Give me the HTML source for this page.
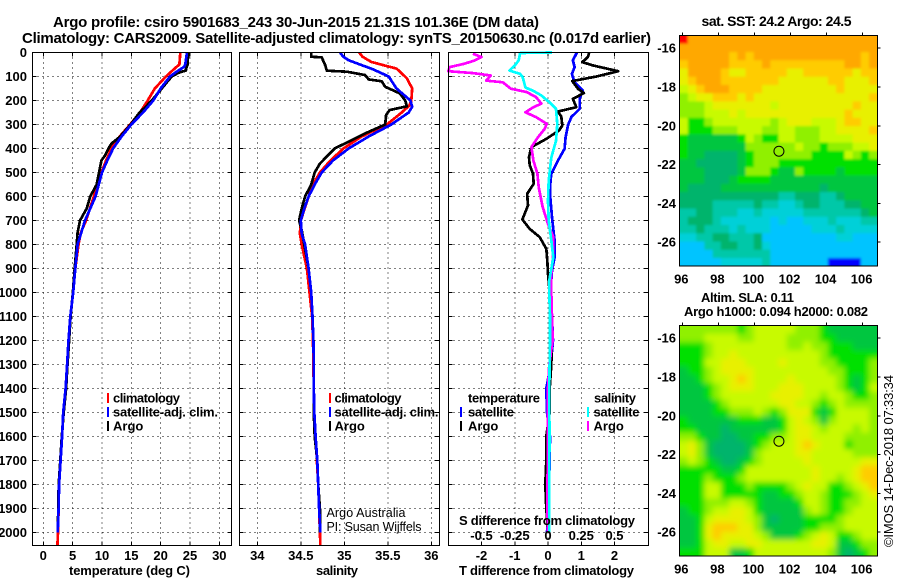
<!DOCTYPE html>
<html>
<head>
<meta charset="utf-8">
<title>Argo profile</title>
<style>
html,body{margin:0;padding:0;background:#fff;width:900px;height:580px;overflow:hidden}
svg{display:block}
text{font-family:"Liberation Sans",sans-serif;fill:#000}
.b{font-weight:bold;font-size:13px}
.t{font-weight:bold;font-size:15px}
.r{font-size:12.5px}
.m{text-anchor:middle}
.e{text-anchor:end}
</style>
</head>
<body>
<svg id="chart" width="900" height="580" viewBox="0 0 900 580" xmlns="http://www.w3.org/2000/svg">
<defs>
<filter id="soft-sst" filterUnits="userSpaceOnUse" x="660" y="0" width="240" height="580"><feGaussianBlur stdDeviation="1.2"/></filter>
<filter id="soft-sla" filterUnits="userSpaceOnUse" x="660" y="0" width="240" height="580"><feGaussianBlur stdDeviation="3"/></filter>
<clipPath id="clip-sst"><rect x="679.7" y="35.5" width="197.6" height="230.7"/></clipPath>
<clipPath id="clip-sla"><rect x="679.7" y="325.5" width="197.6" height="230.7"/></clipPath>
</defs>
<text class="t" x="53" y="27" textLength="486">Argo profile: csiro 5901683_243 30-Jun-2015 21.31S 101.36E (DM data)</text>
<text class="t" x="22" y="43" textLength="629">Climatology: CARS2009. Satellite-adjusted climatology: synTS_20150630.nc (0.017d earlier)</text>
<g id="panels"></g>
<g id="maps"></g>

<text class="b m" x="129.5" y="575" textLength="121">temperature (deg C)</text>
<text class="b m" x="337" y="575" textLength="42">salinity</text>
<text class="b" x="459" y="575" textLength="175">T difference from climatology</text>
<text class="b" x="459" y="525" textLength="176">S difference from climatology</text>

<g>
<rect x="107" y="393" width="2" height="10" fill="#f00"/>
<text class="b" x="113" y="402.5" textLength="67">climatology</text>
<rect x="107" y="407" width="2" height="10" fill="#00f"/>
<text class="b" x="113" y="416.5" textLength="105">satellite-adj. clim.</text>
<rect x="107" y="421" width="2" height="10" fill="#000"/>
<text class="b" x="113" y="430.5">Argo</text>
</g>
<g>
<rect x="329" y="393" width="2" height="10" fill="#f00"/>
<text class="b" x="334.5" y="402.5" textLength="67">climatology</text>
<rect x="329" y="407" width="2" height="10" fill="#00f"/>
<text class="b" x="334.5" y="416.5" textLength="104">satellite-adj. clim.</text>
<rect x="329" y="421" width="2" height="10" fill="#000"/>
<text class="b" x="334.5" y="430.5">Argo</text>
</g>
<g>
<text class="b" x="468" y="402.5" textLength="72">temperature</text>
<rect x="460" y="407" width="2" height="10" fill="#00f"/>
<text class="b" x="468" y="416.5" textLength="46">satellite</text>
<rect x="460" y="421" width="2" height="10" fill="#000"/>
<text class="b" x="468" y="430.5">Argo</text>
<text class="b" x="594" y="402.5" textLength="42">salinity</text>
<rect x="587" y="407" width="2" height="10" fill="#0ff"/>
<text class="b" x="593.5" y="416.5" textLength="46">satellite</text>
<rect x="587" y="421" width="2" height="10" fill="#f0f"/>
<text class="b" x="593.5" y="430.5">Argo</text>
</g>
<text class="r" x="326.5" y="517" textLength="79">Argo Australia</text>
<text class="r" x="326.5" y="531" textLength="95">PI: Susan Wijffels</text>

<text class="t m" x="776.5" y="26" style="font-size:14px" textLength="150">sat. SST: 24.2 Argo: 24.5</text>
<text class="b m" x="747.5" y="302" textLength="93">Altim. SLA: 0.11</text>
<text class="b m" x="776" y="316" textLength="184">Argo h1000: 0.094 h2000: 0.082</text>
<text x="893" y="547" transform="rotate(-90 893 547)" textLength="172" style="font-size:13px">©IMOS 14-Dec-2018 07:33:34</text>
</svg>

<script>
// ---- Profile data (depth in dbar, temperature in deg C, salinity in psu) ----
const depthTicks = [0,100,200,300,400,500,600,700,800,900,1000,1100,1200,1300,1400,1500,1600,1700,1800,1900,2000];
const tempTicks = [0,5,10,15,20,25,30];
const salTicks = ["34","34.5","35","35.5","36"];
const tDiffTicks = [-2,-1,0,1,2];
const sDiffTicks = ["-0.5","-0.25","0","0.25","0.5"];

const tempClimDepths = [0,50,60,100,150,200,250,300,350,400,450,500,600,700,750,800,900,1000,1100,1200,1300,1400,1500,1600,1700,1800,1900,2000,2055];
const tempClim = [23.35,23.2,22.7,20.9,19,17.8,16.5,14.8,13,11.6,10.7,9.9,8.6,7.3,6.4,6,5.45,5.1,4.6,4.3,4.05,3.8,3.4,3.2,2.95,2.7,2.6,2.5,2.4];
const tempArgoDepths = [0,50,70,75,85,100,120,150,200,230,250,300,350,380,400,430,450,500,550,600,650,700,750,800,900,1000,1100,1200,1300,1400,1500,1600,1700,1800,1900,2000];
const tempArgo = [24.7,24.6,24.3,24.3,23,21.9,21.2,20.2,18.5,17.3,16.4,14.9,13.1,11.6,11.1,10.5,9.9,9.5,9.1,8,7.4,6.25,5.85,5.7,5.35,5.05,4.65,4.4,4.12,3.88,3.47,3.15,2.9,2.62,2.55,2.45];
const tempSatDepths = [0,50,60,80,100,150,200,250,300,350,400,450,500,600,700,800,900,1000,1100,1200,1300,1400,1500,1600,1700,1800,1900,2000];
const tempSat = [24.5,24.2,24,22.7,21.6,20,18.75,17,15,13.35,11.9,10.9,10,8.9,7.1,5.85,5.45,5.1,4.6,4.3,4.05,3.8,3.4,3.2,2.95,2.7,2.6,2.45];

const salClimDepths = [0,18,39,53,67,80,108,150,200,220,250,300,350,400,450,500,550,600,700,755,800,900,1000,1100,1200,1300,1400,1500,1600,1700,1800,1900,2000,2055];
const salClim = [35.17,35.21,35.31,35.45,35.6,35.64,35.72,35.78,35.77,35.75,35.66,35.49,35.2,34.99,34.84,34.72,34.64,34.59,34.5,34.49,34.51,34.57,34.6,34.63,34.64,34.645,34.65,34.655,34.67,34.685,34.7,34.71,34.72,34.725];
const salArgoDepths = [0,18,20,53,76,80,94,112,120,143,171,200,224,240,261,300,337,382,400,463,500,550,600,650,700,740,800,900,1000,1100,1200,1300,1400,1500,1600,1700,1800,1900,2000];
const salArgo = [34.62,34.62,34.74,34.78,34.8,35.03,35.24,35.28,35.43,35.47,35.64,35.7,35.72,35.52,35.48,35.47,35.24,34.99,34.89,34.72,34.66,34.62,34.55,34.51,34.48,34.51,34.54,34.59,34.62,34.635,34.645,34.65,34.65,34.65,34.66,34.69,34.7,34.72,34.72];
const salSatDepths = [0,18,32,50,70,100,150,200,226,250,300,350,400,450,500,550,600,650,700,755,800,900,1000,1100,1200,1300,1400,1500,1600,1700,1800,1900,2000];
const salSat = [34.95,34.99,35.05,35.18,35.33,35.51,35.6,35.76,35.78,35.74,35.54,35.28,35.05,34.87,34.74,34.66,34.59,34.54,34.5,34.51,34.55,34.59,34.62,34.635,34.645,34.65,34.65,34.655,34.67,34.69,34.7,34.71,34.725];

const tDiffSatDepths = [0,33,61,89,124,158,193,235,269,303,353,401,450,505,547,603,700,783,853,908,950,1000,1100,1200,1300,1400,1500,1600,1700,1800,1900,2000];
const tDiffSat = [0.87,0.75,0.8,0.72,0.8,1.05,0.95,0.95,0.7,0.6,0.53,0.5,0.3,0.1,0.07,0.07,0.13,0.2,0.2,0.12,0.1,0.1,0.12,0.15,0.08,-0.05,-0.03,0.06,0.05,0.03,0.01,-0.03];
const tDiffArgoDepths = [0,19,40,54,78,100,119,151,169,193,228,246,267,304,325,360,394,435,469,505,547,589,637,696,735,769,818,867,922,1000,1100,1200,1300,1400,1500,1600,1700,1800,1900,2000];
const tDiffArgo = [1.24,1.2,1.03,1.36,2.11,1.46,0.73,0.9,1.08,0.75,0.85,0.3,0.4,0.43,0.33,-0.05,-0.5,-0.57,-0.55,-0.45,-0.43,-0.63,-0.6,-0.77,-0.55,-0.25,-0.05,-0.02,0,0.05,0.1,0.12,0.1,0.05,0.05,-0.05,-0.05,-0.08,-0.05,0];
const sDiffSatDepths = [0,2,33,54,75,89,103,146,160,179,207,235,299,368,438,535,618,700,783,853,950,1000,1100,1200,1300,1400,1500,1600,1700,1800,1900,2000];
const sDiffSat = [0.03,-0.21,-0.22,-0.25,-0.29,-0.21,-0.19,-0.17,-0.11,-0.05,0.01,0.06,0.07,0.06,0.025,0.005,0,0.005,0.025,0.04,0.01,0.01,0.015,0.015,0.012,0.01,0.01,0.012,0.01,0.01,0.01,0.01];
const sDiffArgoDepths = [5,19,33,47,61,78,86,96,117,124,151,165,186,213,228,249,269,297,318,353,394,450,505,561,644,714,769,839,922,1000,1100,1200,1300,1400,1500,1600,1700,1800,1900,2000];
const sDiffArgo = [-0.565,-0.5,-0.55,-0.63,-0.74,-0.75,-0.565,-0.43,-0.465,-0.34,-0.28,-0.16,-0.09,-0.05,-0.11,-0.17,-0.09,-0.01,-0.025,-0.075,-0.125,-0.11,-0.08,-0.07,-0.04,0,0.04,0.04,0.025,0.025,0.03,0.035,0.01,0,0,0,0,-0.005,-0.005,0];

// ---- Map data: colour-class values ----
const mapLonTicks = [96,98,100,102,104,106];
const mapLatTicks = [-16,-18,-20,-22,-24,-26];
const argoLon = 101.36;
const argoLat = -21.31;
const sstGrid = [
[12,11,11,11,11,11,11,11,11,11,11,11,11,11,11,11,11,11,11,11,11,11,11,11],
[11,11,11,11,11,11,11,11,11,11,11,11,11,11,11,11,11,11,11,11,11,11,11,11],
[11,11,11,11,11,11,10,11,10,11,11,11,11,11,11,11,11,11,11,11,11,11,10,11],
[10,11,11,11,11,11,10,10,10,10,11,10,10,10,10,10,10,10,10,10,11,11,10,11],
[9,11,11,11,11,10,9,9,10,10,10,10,10,9,9,10,10,10,10,10,10,9,10,10],
[9,10,11,11,11,10,10,10,10,10,10,10,9,9,9,9,9,9,10,10,9,9,9,10],
[8,9,10,11,11,11,10,10,10,10,9,9,9,9,9,9,9,9,9,10,9,9,9,9],
[7,8,9,9,10,10,10,9,10,9,9,9,9,9,9,9,9,9,9,9,9,9,9,10],
[7,7,7,8,9,9,9,9,9,9,9,8,9,9,9,9,9,9,9,9,9,10,9,9],
[7,7,7,8,8,8,9,8,9,9,9,9,9,9,9,9,9,9,9,9,10,9,9,9],
[8,6,6,7,8,8,8,8,8,8,8,7,8,9,9,9,8,8,8,9,10,10,9,9],
[8,6,6,6,7,7,7,8,8,8,7,7,8,8,7,7,7,8,8,9,9,9,9,10],
[6,5,5,5,5,5,5,6,8,7,6,6,8,8,7,7,7,8,8,8,8,9,9,9],
[6,5,5,5,5,5,5,5,7,7,7,7,7,7,8,7,7,6,7,7,7,8,8,9],
[6,5,5,4,4,4,4,5,6,7,7,7,7,7,7,7,6,6,6,6,8,7,6,7],
[5,5,4,4,4,4,4,5,6,7,7,7,6,6,6,6,6,6,6,6,6,6,6,6],
[5,5,5,4,4,4,4,5,7,7,7,6,5,5,7,6,6,6,6,5,6,6,6,6],
[5,5,5,4,4,4,5,6,6,6,6,5,5,5,5,5,5,5,5,5,5,5,5,5],
[5,4,4,4,4,5,5,5,5,5,5,5,5,5,5,5,5,4,5,5,5,5,5,5],
[4,4,4,4,4,4,4,4,4,4,4,4,3,3,4,4,4,3,3,4,5,5,5,5],
[4,4,4,4,3,3,3,3,3,4,3,3,2,2,3,4,4,3,3,3,4,4,5,5],
[3,3,4,4,3,3,3,2,2,3,2,2,2,2,2,3,3,3,3,3,3,3,4,5],
[3,4,4,4,3,2,2,2,2,2,2,1,2,1,1,2,2,2,3,2,2,2,3,3],
[3,3,4,3,3,3,2,3,2,2,2,1,1,1,1,1,2,2,2,3,2,2,2,2],
[2,2,3,3,4,4,3,3,3,4,1,1,1,1,1,1,1,1,1,2,2,1,1,1],
[1,1,1,3,3,4,4,3,3,4,2,1,1,1,1,1,1,1,1,1,1,1,1,1],
[1,1,1,1,3,3,3,3,3,3,3,1,1,1,1,1,1,1,1,1,1,1,1,1],
[1,1,1,1,1,2,2,2,2,2,3,1,1,1,1,1,1,1,0,0,0,0,1,1]
];
const slaGrid = [
[7,7,7,7,7,7,7,6,7,8,8,8,8,8,7,7,7,6,5,5,5,5,5,5],
[7,7,7,8,8,8,8,7,7,8,8,8,8,7,7,7,7,6,6,5,5,5,5,5],
[6,6,6,7,8,8,8,8,8,8,8,8,8,7,7,8,7,7,6,6,6,5,5,5],
[6,6,6,7,8,8,9,8,8,8,8,8,8,8,8,8,8,7,6,6,6,6,6,6],
[6,6,6,8,8,9,9,9,8,8,8,8,9,8,8,8,8,7,7,6,6,6,6,7],
[5,6,6,7,8,9,9,9,9,8,8,8,8,8,8,8,8,8,7,7,6,6,6,7],
[5,5,6,7,8,8,9,10,9,8,8,8,8,9,8,8,8,8,8,7,6,5,6,7],
[5,5,5,6,7,8,9,9,9,8,8,8,9,9,9,8,8,8,8,7,6,5,6,8],
[5,5,5,6,7,8,8,8,8,8,8,9,9,9,9,8,8,7,8,8,7,6,6,7],
[5,5,5,5,6,7,8,8,8,8,8,8,9,9,8,8,7,6,7,8,7,7,7,7],
[5,5,5,5,6,6,7,7,7,8,7,6,7,9,9,9,6,5,6,8,8,8,8,7],
[6,5,5,5,5,5,5,6,6,6,5,5,6,8,9,8,7,5,7,8,8,8,8,7],
[6,6,5,5,5,4,5,5,5,5,5,5,6,8,9,9,8,7,8,8,8,7,8,7],
[7,7,6,5,5,4,4,5,5,6,6,7,7,8,9,9,8,8,8,8,7,7,7,7],
[8,9,7,5,4,4,4,4,5,6,7,8,8,8,9,10,9,8,8,8,6,7,7,7],
[8,9,7,5,4,4,4,4,5,7,8,8,8,8,9,9,8,8,8,8,8,7,7,7],
[7,8,7,6,5,4,4,5,6,7,8,8,8,8,8,9,8,8,8,8,8,8,9,9],
[6,6,6,6,6,5,5,6,8,8,8,8,8,8,8,8,9,8,8,8,8,9,10,10],
[6,6,6,7,6,6,6,7,8,8,8,8,8,8,8,8,9,8,8,7,8,9,10,10],
[6,6,6,8,8,6,6,6,7,6,6,6,6,7,8,9,8,8,6,6,7,8,9,10],
[6,6,6,8,8,6,6,6,6,6,5,5,6,6,7,8,8,7,6,6,6,7,8,9],
[6,6,6,7,7,7,8,8,7,6,5,5,5,5,6,8,8,7,6,6,7,7,8,8],
[5,6,6,7,8,8,9,9,8,6,5,5,5,5,5,7,8,7,6,6,7,8,8,8],
[5,5,6,8,9,9,9,9,8,7,5,4,5,5,5,6,6,6,6,7,8,8,8,8],
[5,5,6,9,10,10,10,9,9,7,5,5,5,5,5,6,6,7,7,7,8,8,8,8],
[5,5,6,9,10,9,9,9,9,8,7,5,5,5,6,7,8,9,8,6,6,7,8,8],
[5,5,6,8,9,9,8,8,9,9,8,8,8,8,8,8,9,9,8,5,5,6,7,7],
[6,6,6,8,8,8,5,5,6,8,8,8,8,8,8,8,8,8,7,5,4,5,6,7]
];
const palette = ["#0000ff","#00c4ff","#00d0d8","#00c8a8","#00b46c","#00c640","#00e000","#90f000","#c8fa00","#e8f000","#ffcc00","#ffa800","#ff0000"];

// ---- Scales ----
const NS = "http://www.w3.org/2000/svg";
const LINE_WIDTH = 2.7;
const yOf = d => 52.5 + d * 0.24;
const xTemp = v => 43.3 + v * 5.867;
const xSal = v => 257.3 + (v - 34) * 87;
const xTd = v => 548 + v * 33.25;
const xSd = v => 548 + v * 133;
const lonX = lon => 682.3 + (lon - 96) * 18.03;
const latOff = lat => 12.7 + (-16 - lat) * 19.4;
const panelTop = 52.5, panelBottom = 545.5;

function make(tag, attrs, parent, text) {
  const el = document.createElementNS(NS, tag);
  for (const k in attrs) el.setAttribute(k, attrs[k]);
  if (text !== undefined) el.textContent = text;
  parent.appendChild(el);
  return el;
}
const panels = document.getElementById('panels');
const maps = document.getElementById('maps');

function drawFrame(left, right, xs) {
  depthTicks.forEach(d => {
    const g = make('line', {x1:left, x2:right, y1:yOf(d), y2:yOf(d), stroke:'#000', 'stroke-width':1, 'stroke-dasharray':'1 4', 'shape-rendering':'crispEdges'}, panels);
    
    
    [[left, left + 4], [right - 4, right]].forEach(p => {
      const t = make('line', {x1:p[0], x2:p[1], y1:yOf(d), y2:yOf(d), stroke:'#000', 'stroke-width':1, 'shape-rendering':'crispEdges'}, panels);
      
      
    });
  });
  xs.forEach(x => {
    const g = make('line', {x1:x, x2:x, y1:panelTop, y2:panelBottom, stroke:'#000', 'stroke-width':1, 'stroke-dasharray':'1 4', 'shape-rendering':'crispEdges'}, panels);
    
    
    [[panelTop, panelTop + 4], [panelBottom - 4, panelBottom]].forEach(p => {
      const t = make('line', {x1:x, x2:x, y1:p[0], y2:p[1], stroke:'#000', 'stroke-width':1, 'shape-rendering':'crispEdges'}, panels);
      
      
    });
  });
}
function drawBorder(left, right) {
  const r = make('rect', {x:left, y:panelTop, width:right - left, height:panelBottom - panelTop, fill:'none', stroke:'#000', 'stroke-width':1, 'shape-rendering':'crispEdges'}, panels);
  
  
}
function drawLine(xFn, depths, values, color, name) {
  const pts = depths.map((d, i) => xFn(values[i]).toFixed(1) + ',' + yOf(d).toFixed(1)).join(' ');
  const p = make('polyline', {points:pts, fill:'none', stroke:color, 'stroke-width':LINE_WIDTH, 'stroke-linejoin':'round', 'shape-rendering':'crispEdges'}, panels);
  
  
}

const P1 = [32.5, 231.5], P2 = [239.5, 439.5], P3 = [448.5, 648.5];
drawFrame(P1[0], P1[1], tempTicks.map(xTemp));
drawFrame(P2[0], P2[1], salTicks.map(s => xSal(parseFloat(s))));
drawFrame(P3[0], P3[1], tDiffTicks.map(xTd));

drawLine(xTemp, tempClimDepths, tempClim, '#f00', 'temperature-climatology-line');
drawLine(xTemp, tempArgoDepths, tempArgo, '#000', 'temperature-argo-line');
drawLine(xTemp, tempSatDepths, tempSat, '#00f', 'temperature-satellite-line');

drawLine(xSal, salClimDepths, salClim, '#f00', 'salinity-climatology-line');
drawLine(xSal, salArgoDepths, salArgo, '#000', 'salinity-argo-line');
drawLine(xSal, salSatDepths, salSat, '#00f', 'salinity-satellite-line');

drawLine(xTd, tDiffSatDepths, tDiffSat, '#00f', 't-difference-satellite-line');
drawLine(xTd, tDiffArgoDepths, tDiffArgo, '#000', 't-difference-argo-line');
drawLine(xSd, sDiffArgoDepths, sDiffArgo, '#f0f', 's-difference-argo-line');
drawLine(xSd, sDiffSatDepths, sDiffSat, '#0ff', 's-difference-satellite-line');

drawBorder(P1[0], P1[1]);
drawBorder(P2[0], P2[1]);
drawBorder(P3[0], P3[1]);

depthTicks.forEach(d => {
  const t = make('text', {class:'b e', x:27, y:yOf(d) + 4.5}, panels, String(d));
  
  
});
tempTicks.forEach(v => {
  const t = make('text', {class:'b m', x:xTemp(v), y:560}, panels, String(v));
  
  
});
salTicks.forEach(v => {
  const t = make('text', {class:'b m', x:xSal(parseFloat(v)), y:560}, panels, v);
  
  
});
tDiffTicks.forEach(v => {
  const t = make('text', {class:'b m', x:xTd(v), y:560}, panels, String(v));
  
  
});
sDiffTicks.forEach(v => {
  const t = make('text', {class:'b m', x:xSd(parseFloat(v)), y:540}, panels, v);
  
  
});

// Maps: cells are softened with a blur; edge cells overhang so the blur does not fade at the frame.
function drawMap(grid, top, name, filterId, clipId) {
  const left = 679.7, width = 197.6, height = 230.7, pad = 10;
  const cw = width / grid[0].length, ch = height / grid.length;
  const clip = make('g', {'clip-path':'url(#' + clipId + ')'}, maps);
  
  
  const soft = make('g', {filter:'url(#' + filterId + ')'}, clip);
  
  
  grid.forEach((row, r) => {
    row.forEach((val, c) => {
      const x0 = left + c * cw - (c === 0 ? pad : 0);
      const x1 = left + (c + 1) * cw + (c === row.length - 1 ? pad : 0.5);
      const y0 = top + r * ch - (r === 0 ? pad : 0);
      const y1 = top + (r + 1) * ch + (r === grid.length - 1 ? pad : 0.5);
      const cell = make('rect', {x:x0.toFixed(2), y:y0.toFixed(2), width:(x1 - x0).toFixed(2), height:(y1 - y0).toFixed(2), fill:palette[val]}, soft);
      
      
    });
  });
  const frame = make('rect', {x:left, y:top, width:width, height:height, fill:'none', stroke:'#000', 'stroke-width':1, 'shape-rendering':'crispEdges'}, maps);
  
  
  mapLonTicks.forEach(lon => {
    const tk = make('line', {x1:lonX(lon), x2:lonX(lon), y1:top - 3, y2:top, stroke:'#000', 'shape-rendering':'crispEdges'}, maps);
    
    
    const lb = make('text', {class:'b m', x:lonX(lon) - 1, y:top + height + 17.5}, maps, String(lon));
    
    
  });
  mapLatTicks.forEach(lat => {
    const y = top + latOff(lat);
    const tk = make('line', {x1:left + width, x2:left + width + 3, y1:y, y2:y, stroke:'#000', 'shape-rendering':'crispEdges'}, maps);
    
    
    const lb = make('text', {class:'b e', x:676, y:y + 4.5}, maps, String(lat));
    
    
  });
  const pos = make('circle', {cx:lonX(argoLon), cy:top + latOff(argoLat), r:5, fill:'none', stroke:'#000', 'stroke-width':1}, maps);
  
  
}
drawMap(sstGrid, 35.5, 'sst-map', 'soft-sst', 'clip-sst');
drawMap(slaGrid, 325.5, 'sla-map', 'soft-sla', 'clip-sla');
</script>
</body>
</html>
